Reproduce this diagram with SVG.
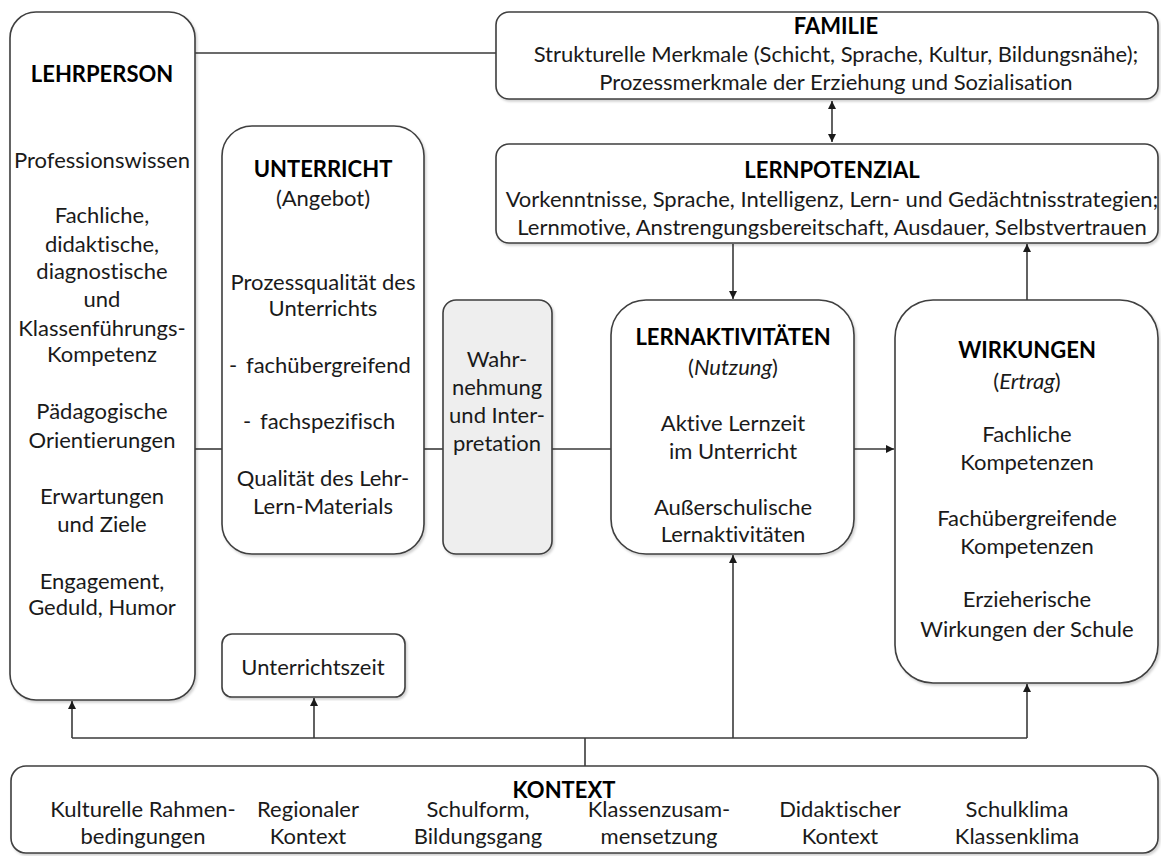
<svg xmlns="http://www.w3.org/2000/svg" width="1161" height="856" viewBox="0 0 1161 856">
<style>
.box{fill:#ffffff;stroke:#3f3f3f;stroke-width:1.6}
.gray{fill:#eeeeee}
text{font-family:Lato,"Liberation Sans",sans-serif;font-size:22px;fill:#1a1a1a;text-anchor:middle;font-variant-ligatures:none}
.b{font-weight:bold;fill:#000}
.i{font-style:italic}
.s{text-anchor:start}
.ln{fill:none;stroke:#3a3a3a;stroke-width:1.6}
</style>
<defs>
<filter id="sh" x="-5%" y="-5%" width="110%" height="110%">
<feDropShadow dx="1.5" dy="2" stdDeviation="1.2" flood-color="#000" flood-opacity="0.18"/>
</filter>
<marker id="ah" viewBox="0 0 10 10" refX="10" refY="5" markerWidth="8" markerHeight="8" markerUnits="userSpaceOnUse" orient="auto-start-reverse">
<path d="M0,0 L10,5 L0,10 z" fill="#1a1a1a"/>
</marker>
</defs>

<g id="connectors">
<path class="ln" d="M195 53 H496"/>
<path class="ln" d="M832 101 V142" marker-start="url(#ah)" marker-end="url(#ah)"/>
<path class="ln" d="M733 244 V299" marker-end="url(#ah)"/>
<path class="ln" d="M1027 300 V244" marker-end="url(#ah)"/>
<path class="ln" d="M195 449 H222"/>
<path class="ln" d="M424 449 H443"/>
<path class="ln" d="M552 449 H611"/>
<path class="ln" d="M854 449 H894" marker-end="url(#ah)"/>
<path class="ln" d="M585 766 V738"/>
<path class="ln" d="M72 738 H1027"/>
<path class="ln" d="M72 738 V701" marker-end="url(#ah)"/>
<path class="ln" d="M314 738 V698" marker-end="url(#ah)"/>
<path class="ln" d="M733 738 V555" marker-end="url(#ah)"/>
<path class="ln" d="M1027 738 V684" marker-end="url(#ah)"/>
</g>

<g id="lehrperson">
<rect class="box" filter="url(#sh)" x="10" y="12" width="185" height="688" rx="26"/>
<text class="b" x="102" y="82">LEHRPERSON</text>
<text x="102" y="168">Professionswissen</text>
<text x="102" y="223">Fachliche,</text>
<text x="102" y="252">didaktische,</text>
<text x="102" y="279">diagnostische</text>
<text x="102" y="307">und</text>
<text x="102" y="336">Klassenführungs-</text>
<text x="102" y="362">Kompetenz</text>
<text x="102" y="419">Pädagogische</text>
<text x="102" y="448">Orientierungen</text>
<text x="102" y="504">Erwartungen</text>
<text x="102" y="532">und Ziele</text>
<text x="102" y="589">Engagement,</text>
<text x="102" y="615">Geduld, Humor</text>
</g>

<g id="familie">
<rect class="box" filter="url(#sh)" x="496" y="12" width="662" height="87" rx="13"/>
<text class="b" x="836" y="34">FAMILIE</text>
<text x="836" y="62">Strukturelle Merkmale (Schicht, Sprache, Kultur, Bildungsnähe);</text>
<text x="836" y="90">Prozessmerkmale der Erziehung und Sozialisation</text>
</g>

<g id="lernpotenzial">
<rect class="box" filter="url(#sh)" x="496" y="144" width="662" height="99" rx="13"/>
<text class="b" x="832" y="178">LERNPOTENZIAL</text>
<text x="832" y="207">Vorkenntnisse, Sprache, Intelligenz, Lern- und Gedächtnisstrategien;</text>
<text x="832" y="235">Lernmotive, Anstrengungsbereitschaft, Ausdauer, Selbstvertrauen</text>
</g>

<g id="unterricht">
<rect class="box" filter="url(#sh)" x="222" y="126" width="202" height="428" rx="30"/>
<text class="b" x="323" y="177">UNTERRICHT</text>
<text x="323" y="206">(Angebot)</text>
<text x="323" y="290">Prozessqualität des</text>
<text x="323" y="316">Unterrichts</text>
<text class="s" x="229" y="373">-<tspan x="246">fachübergreifend</tspan></text>
<text class="s" x="243" y="429">-<tspan x="260">fachspezifisch</tspan></text>
<text x="323" y="486">Qualität des Lehr-</text>
<text x="323" y="514">Lern-Materials</text>
</g>

<g id="unterrichtszeit">
<rect class="box" filter="url(#sh)" x="222" y="634" width="183" height="63" rx="10"/>
<text x="313" y="675">Unterrichtszeit</text>
</g>

<g id="wahrnehmung">
<rect class="box gray" filter="url(#sh)" x="443" y="300" width="109" height="254" rx="13"/>
<text x="497" y="367">Wahr-</text>
<text x="497" y="395">nehmung</text>
<text x="497" y="423">und Inter-</text>
<text x="497" y="451">pretation</text>
</g>

<g id="lernaktivitaeten">
<rect class="box" filter="url(#sh)" x="611" y="300" width="243" height="254" rx="35"/>
<text class="b" x="733" y="345">LERNAKTIVITÄTEN</text>
<text x="733" y="375">(<tspan class="i">Nutzung</tspan>)</text>
<text x="733" y="431">Aktive Lernzeit</text>
<text x="733" y="459">im Unterricht</text>
<text x="733" y="515">Außerschulische</text>
<text x="733" y="542">Lernaktivitäten</text>
</g>

<g id="wirkungen">
<rect class="box" filter="url(#sh)" x="895" y="300" width="263" height="383" rx="38"/>
<text class="b" x="1027" y="358">WIRKUNGEN</text>
<text x="1027" y="389">(<tspan class="i">Ertrag</tspan>)</text>
<text x="1027" y="442">Fachliche</text>
<text x="1027" y="470">Kompetenzen</text>
<text x="1027" y="526">Fachübergreifende</text>
<text x="1027" y="554">Kompetenzen</text>
<text x="1027" y="607">Erzieherische</text>
<text x="1027" y="637">Wirkungen der Schule</text>
</g>

<g id="kontext">
<rect class="box" filter="url(#sh)" x="11" y="766" width="1147" height="87" rx="15"/>
<text class="b" x="564" y="798">KONTEXT</text>
<text x="143" y="817">Kulturelle Rahmen-</text>
<text x="143" y="844">bedingungen</text>
<text x="308" y="817">Regionaler</text>
<text x="308" y="844">Kontext</text>
<text x="478" y="817">Schulform,</text>
<text x="478" y="844">Bildungsgang</text>
<text x="659" y="817">Klassenzusam-</text>
<text x="659" y="844">mensetzung</text>
<text x="840" y="817">Didaktischer</text>
<text x="840" y="844">Kontext</text>
<text x="1017" y="817">Schulklima</text>
<text x="1017" y="844">Klassenklima</text>
</g>
</svg>
